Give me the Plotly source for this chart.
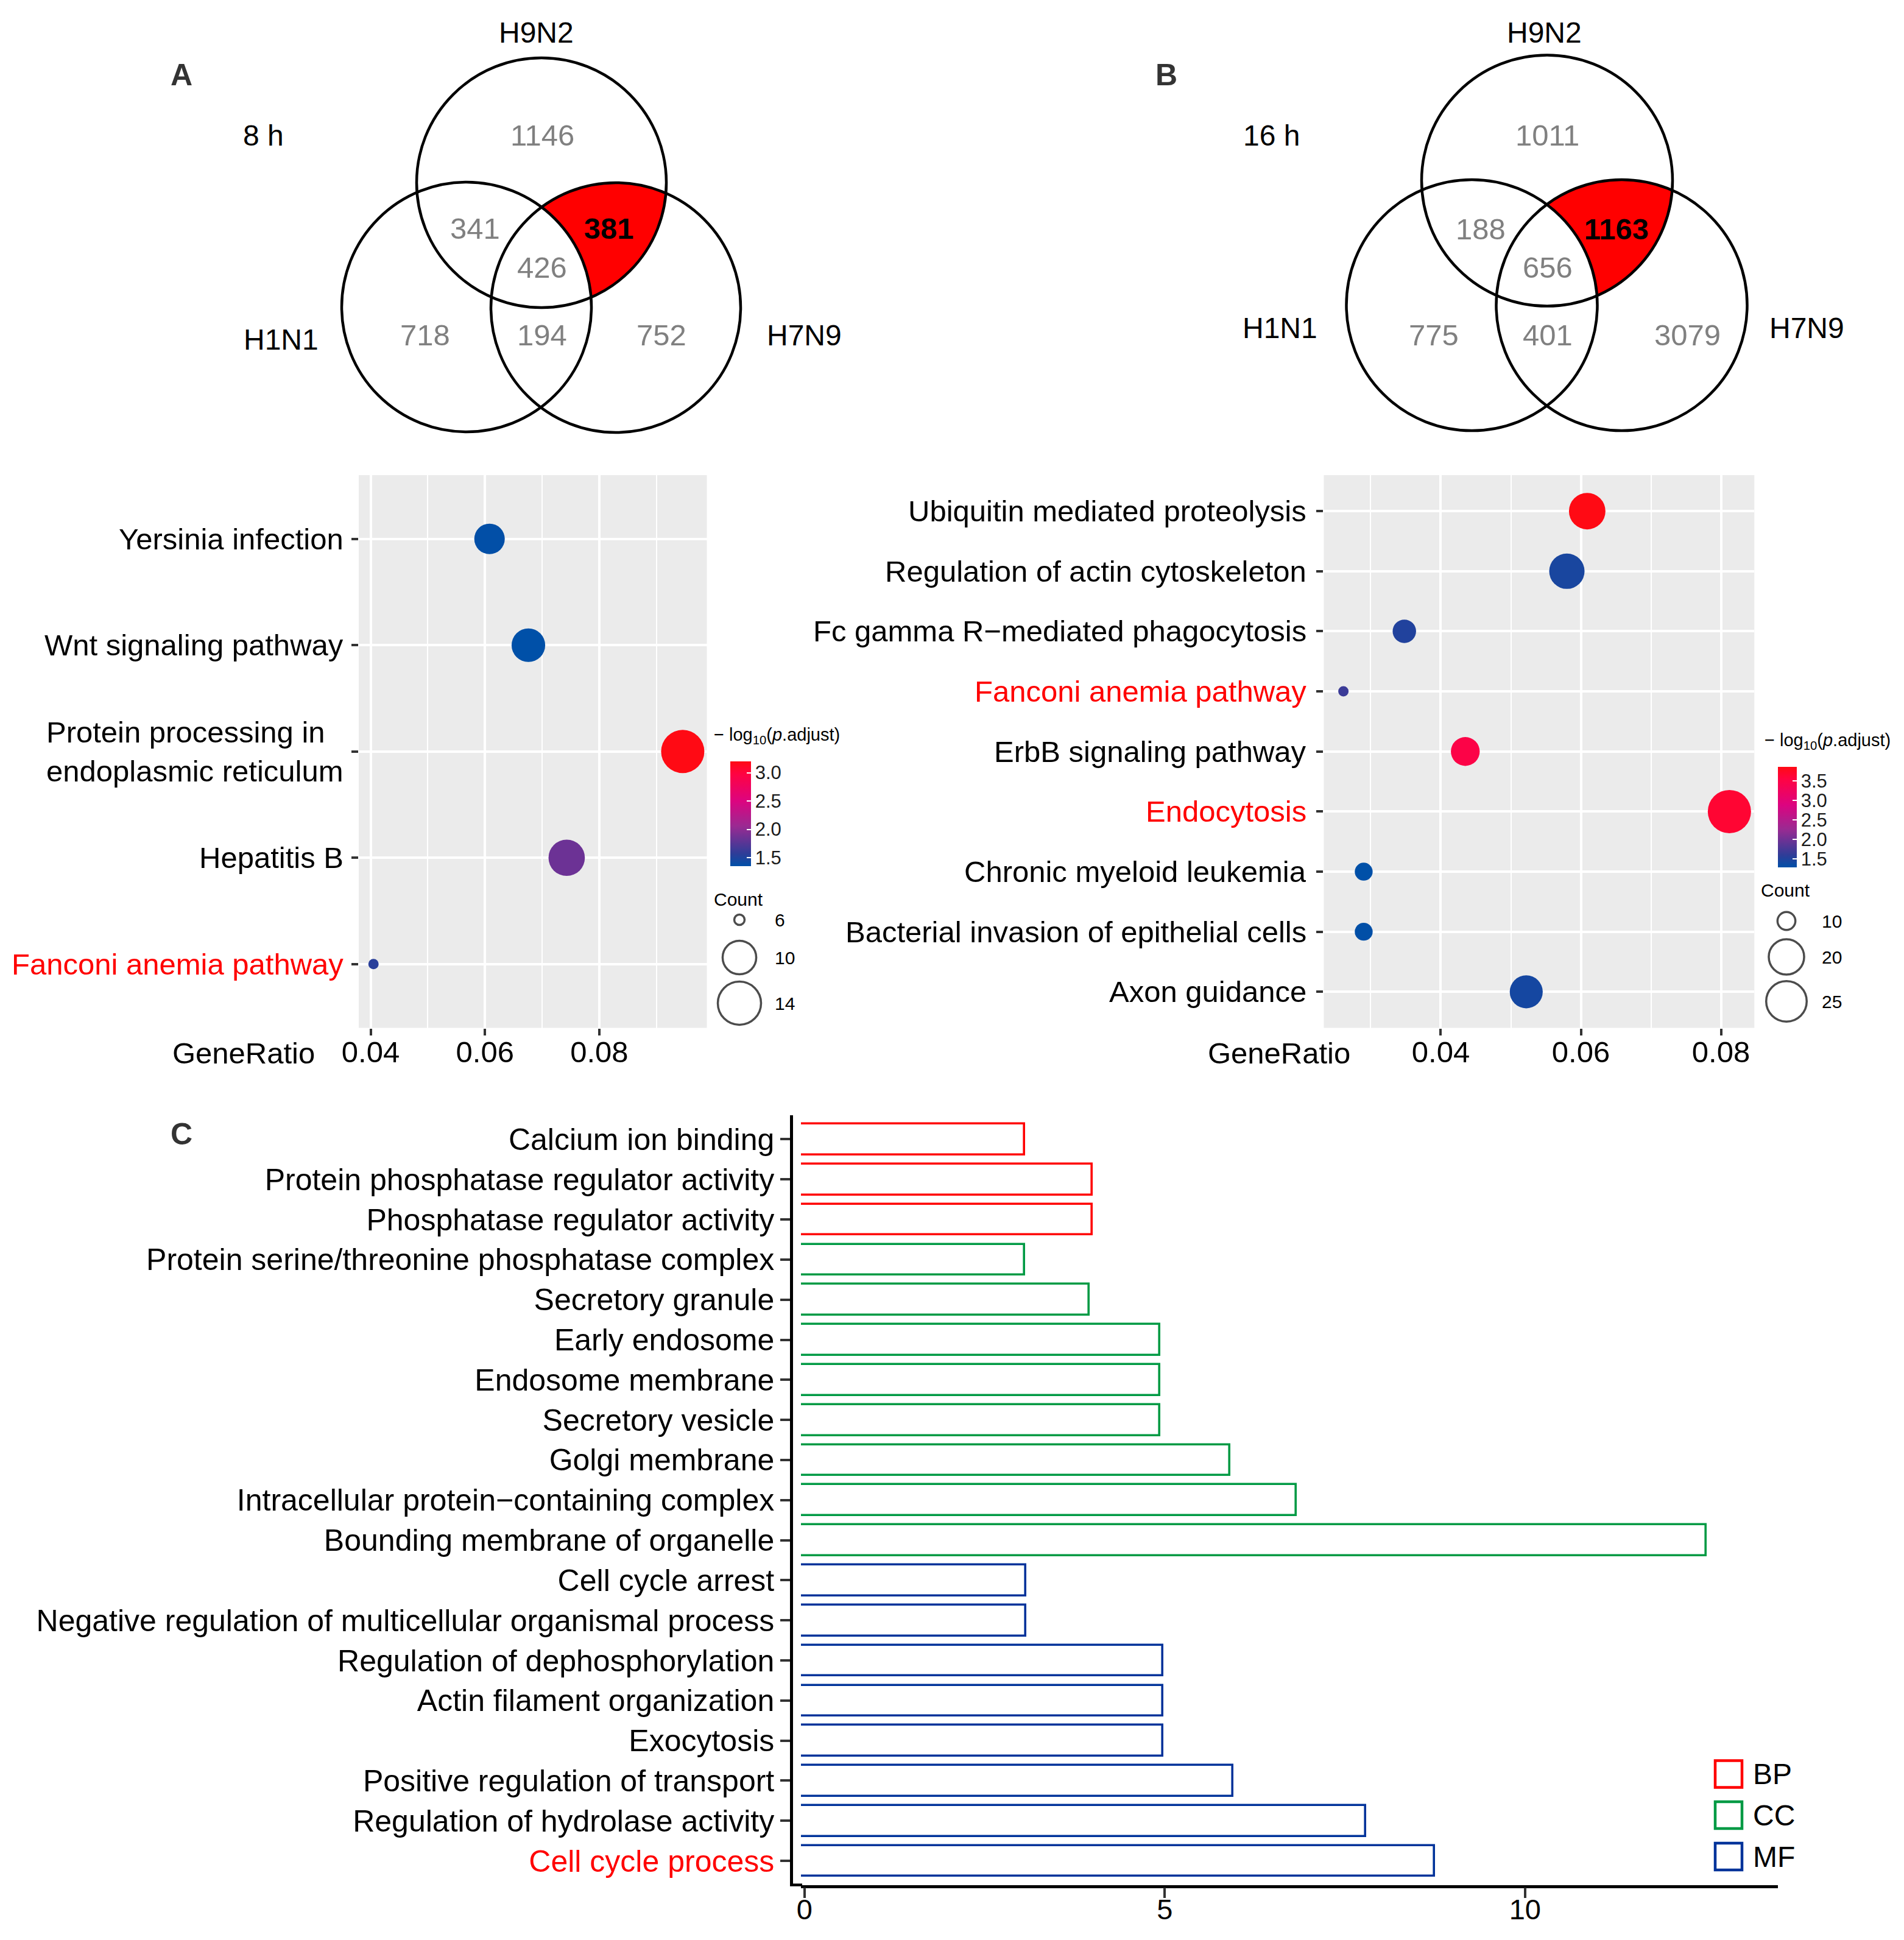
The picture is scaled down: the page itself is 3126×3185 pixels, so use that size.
import math
import plotly.graph_objects as go

W, H = 3126, 3185

# ------------------------------------------------------------------ data
venn_sets = ["H9N2", "H1N1", "H7N9"]
# region order: H9N2 only, H9N2&H1N1, H9N2&H7N9, all three, H1N1 only, H1N1&H7N9, H7N9 only
venn_a_time = "8 h"
venn_a_counts = [1146, 341, 381, 426, 718, 194, 752]
venn_b_time = "16 h"
venn_b_counts = [1011, 188, 1163, 656, 775, 401, 3079]
venn_highlight = 2  # H9N2 & H7N9 only

kegg_a_terms = ["Yersinia infection", "Wnt signaling pathway",
                "Protein processing in<br>endoplasmic reticulum", "Hepatitis B",
                "Fanconi anemia pathway"]
kegg_a_ratio = [0.0608, 0.0676, 0.0946, 0.0743, 0.0405]
kegg_a_count = [9, 10, 14, 11, 6]
kegg_a_logp = [1.36, 1.35, 3.20, 1.85, 1.55]

kegg_b_terms = ["Ubiquitin mediated proteolysis", "Regulation of actin cytoskeleton",
                "Fc gamma R\u2212mediated phagocytosis", "Fanconi anemia pathway",
                "ErbB signaling pathway", "Endocytosis", "Chronic myeloid leukemia",
                "Bacterial invasion of epithelial cells", "Axon guidance"]
kegg_b_ratio = [0.0609, 0.0580, 0.0348, 0.0261, 0.0435, 0.0812, 0.0290, 0.0290, 0.0522]
kegg_b_count = [21, 20, 12, 9, 15, 28, 10, 10, 18]
kegg_b_logp = [3.86, 1.45, 1.50, 1.67, 3.50, 3.65, 1.28, 1.29, 1.42]

highlight_terms = ["Fanconi anemia pathway", "Endocytosis", "Cell cycle process"]

go_terms = ["Calcium ion binding", "Protein phosphatase regulator activity",
            "Phosphatase regulator activity", "Protein serine/threonine phosphatase complex",
            "Secretory granule", "Early endosome", "Endosome membrane", "Secretory vesicle",
            "Golgi membrane", "Intracellular protein\u2212containing complex",
            "Bounding membrane of organelle", "Cell cycle arrest",
            "Negative regulation of multicellular organismal process",
            "Regulation of dephosphorylation", "Actin filament organization", "Exocytosis",
            "Positive regulation of transport", "Regulation of hydrolase activity",
            "Cell cycle process"]
go_values = [3.05, 3.99, 3.99, 3.05, 3.95, 4.93, 4.93, 4.93, 5.90, 6.82, 12.51,
             3.07, 3.07, 4.97, 4.97, 4.97, 5.94, 7.79, 8.74]
go_class = ["BP"] * 3 + ["CC"] * 8 + ["MF"] * 8
go_classes = ["BP", "CC", "MF"]

# ------------------------------------------------------------------ style
FONT = "Liberation Sans, Arial, sans-serif"
class_colors = {"BP": "#FF0000", "CC": "#009A44", "MF": "#00339A"}
cscale = [[0.0, "#0050A8"], [0.12, "#2E3D98"], [0.38, "#9A2A92"],
          [0.62, "#DC0480"], [0.88, "#FF0342"], [1.0, "#FF0A14"]]
DMIN, DMAX = 17, 71


def fx(px):
    return px / W


def fy(py):
    return 1 - py / H


def dot_size(counts, c):
    lo, hi = min(counts), max(counts)
    return DMIN + (DMAX - DMIN) * math.sqrt((c - lo) / (hi - lo))


fig = go.Figure()
annotations = []
shapes = []

# ------------------------------------------------------------------ Venn helpers
def circ_inter(c1, r1, c2, r2):
    dx, dy = c2[0] - c1[0], c2[1] - c1[1]
    d = math.hypot(dx, dy)
    a = (r1 ** 2 - r2 ** 2 + d ** 2) / (2 * d)
    h = math.sqrt(max(r1 ** 2 - a ** 2, 0))
    px, py = c1[0] + a * dx / d, c1[1] + a * dy / d
    return [(px + h * dy / d, py - h * dx / d), (px - h * dy / d, py + h * dx / d)]


def inside(p, c, r):
    return math.hypot(p[0] - c[0], p[1] - c[1]) < r


def arc(c, r, pa, pb, test, n=120):
    a0 = math.atan2(pa[1] - c[1], pa[0] - c[0])
    a1 = math.atan2(pb[1] - c[1], pb[0] - c[0])
    d = (a1 - a0) % (2 * math.pi)
    for delta in (d, d - 2 * math.pi):
        m = a0 + delta / 2
        if test((c[0] + r * math.cos(m), c[1] + r * math.sin(m))):
            return [(c[0] + r * math.cos(a0 + delta * t / n),
                     c[1] + r * math.sin(a0 + delta * t / n)) for t in range(n + 1)]
    return []


def venn(centers, r, counts, count_pos, set_pos, time_label, time_pos, letter, letter_pos):
    c9, c1, c7 = centers
    p1 = [p for p in circ_inter(c9, r, c7, r) if not inside(p, c1, r)][0]
    p2 = [p for p in circ_inter(c9, r, c1, r) if inside(p, c7, r)][0]
    p3 = [p for p in circ_inter(c7, r, c1, r) if inside(p, c9, r)][0]
    pts = arc(c9, r, p1, p2, lambda q: inside(q, c7, r) and not inside(q, c1, r))
    pts += arc(c1, r, p2, p3, lambda q: inside(q, c9, r) and inside(q, c7, r))
    pts += arc(c7, r, p3, p1, lambda q: inside(q, c9, r) and not inside(q, c1, r))
    fig.add_trace(go.Scatter(x=[p[0] for p in pts], y=[p[1] for p in pts], mode="lines",
                             fill="toself", fillcolor="#FF0000", line=dict(width=0),
                             xaxis="x4", yaxis="y4", showlegend=False, hoverinfo="skip"))
    for c in centers:
        shapes.append(dict(type="circle", xref="x4", yref="y4", x0=c[0] - r, x1=c[0] + r,
                           y0=c[1] - r, y1=c[1] + r, line=dict(color="black", width=4.5),
                           layer="above"))
    for i, (v, (x, y)) in enumerate(zip(counts, count_pos)):
        hl = i == venn_highlight
        annotations.append(dict(x=x, y=y, xref="x4", yref="y4", showarrow=False,
                                text=f"<b>{v}</b>" if hl else str(v),
                                font=dict(size=49, color="black" if hl else "#808080", family=FONT)))
    for s, (x, y) in zip(venn_sets, set_pos):
        annotations.append(dict(x=x, y=y, xref="x4", yref="y4", showarrow=False, text=s,
                                font=dict(size=48, color="black", family=FONT)))
    annotations.append(dict(x=time_pos[0], y=time_pos[1], xref="x4", yref="y4", showarrow=False,
                            text=time_label, font=dict(size=48, color="black", family=FONT)))
    annotations.append(dict(x=letter_pos[0], y=letter_pos[1], xref="x4", yref="y4", showarrow=False,
                            text=f"<b>{letter}</b>", font=dict(size=50, color="#333333", family=FONT)))


venn([(889, 300), (766, 504), (1011, 505)], 205, venn_a_counts,
     [(890, 222), (780, 375), (1000, 375), (890, 439), (698, 550), (890, 550), (1086, 550)],
     [(880, 53), (461, 557), (1320, 550)], venn_a_time, (432, 222), "A", (298, 123))
venn([(2540, 296.5), (2416.5, 501), (2662.5, 501)], 206, venn_b_counts,
     [(2540.7, 222), (2431, 376), (2653.6, 375.5), (2540.7, 439), (2354, 550), (2540.7, 550), (2770, 550)],
     [(2535.7, 53), (2101, 538), (2966, 538)], venn_b_time, (2087, 222), "B", (1914.5, 123))


# ------------------------------------------------------------------ dot plots
def dotplot(terms, ratio, count, logp, xa, ya, cb_x, cb_top, cb_bot, cb_thick, cb_ticks,
            label_right, cb_title_pos, legend_breaks, legend_pos, generatio_x):
    idx = list(range(len(terms)))
    fig.add_trace(go.Scatter(
        x=ratio, y=idx, mode="markers", xaxis=xa, yaxis=ya, showlegend=False,
        marker=dict(size=[dot_size(count, c) for c in count], color=logp,
                    colorscale=cscale, cmin=min(logp), cmax=max(logp), line=dict(width=0),
                    opacity=1,
                    colorbar=dict(x=fx(cb_x), xanchor="left", y=fy((cb_top + cb_bot) / 2),
                                  yanchor="middle", len=cb_bot - cb_top, lenmode="pixels",
                                  thickness=cb_thick, thicknessmode="pixels", xpad=0, ypad=0,
                                  outlinewidth=0, tickvals=cb_ticks,
                                  ticktext=[f"{t:.1f}" for t in cb_ticks],
                                  ticks="inside", ticklen=7, tickcolor="white", tickwidth=2,
                                  tickfont=dict(size=31, color="#1a1a1a", family=FONT)))))
    yref = "y" if ya == "y" else "y" + ya[1:]
    for i, t in enumerate(terms):
        red = t in highlight_terms
        annotations.append(dict(x=fx(label_right), y=i, xref="paper", yref=yref, xanchor="right",
                                showarrow=False, text=t, align="left",
                                font=dict(size=49, color="#FF0000" if red else "black", family=FONT)))
    annotations.append(dict(x=cb_title_pos[0], y=cb_title_pos[1], xref="x4", yref="y4",
                            xanchor="left", showarrow=False,
                            text="\u2212 log<sub>10</sub>(<i>p</i>.adjust)",
                            font=dict(size=29, color="black", family=FONT)))
    lx, ly0 = legend_pos
    annotations.append(dict(x=lx, y=ly0, xref="x4", yref="y4", xanchor="left", showarrow=False,
                            text="Count", font=dict(size=30, color="black", family=FONT)))
    br_vals, br_y = legend_breaks
    fig.add_trace(go.Scatter(
        x=[lx + 44] * len(br_vals), y=br_y, mode="markers", xaxis="x4", yaxis="y4",
        showlegend=False, hoverinfo="skip",
        marker=dict(symbol="circle-open", size=[dot_size(count, v) for v in br_vals],
                    color="black", line=dict(width=3.5, color="black"))))
    for v, yy in zip(br_vals, br_y):
        annotations.append(dict(x=lx + 100, y=yy, xref="x4", yref="y4", xanchor="left",
                                showarrow=False, text=str(v),
                                font=dict(size=30, color="black", family=FONT)))
    annotations.append(dict(x=generatio_x, y=1729, xref="x4", yref="y4", showarrow=False,
                            text="GeneRatio", font=dict(size=49, color="black", family=FONT)))


dotplot(kegg_a_terms, kegg_a_ratio, kegg_a_count, kegg_a_logp, "x", "y",
        1199, 1250, 1422, 34, [1.5, 2.0, 2.5, 3.0], 566, (1170, 1208),
        ([6, 10, 14], [1510, 1572, 1647]), (1170, 1476), 400)
dotplot(kegg_b_terms, kegg_b_ratio, kegg_b_count, kegg_b_logp, "x2", "y2",
        2919, 1259, 1424, 31, [1.5, 2.0, 2.5, 3.0, 3.5], 2147, (2895, 1217),
        ([10, 20, 25], [1512, 1571, 1644]), (2889, 1461), 2100)

for xr in ("x domain", "x2 domain"):
    yr = "y domain" if xr == "x domain" else "y2 domain"
    shapes.append(dict(type="rect", xref=xr, yref=yr, x0=0, x1=1, y0=0, y1=1,
                       fillcolor="#EBEBEB", line=dict(width=0), layer="below"))

# ------------------------------------------------------------------ GO bar chart
BASE = -0.4
go_idx = list(range(len(go_terms)))
for cl in go_classes:
    ii = [i for i in go_idx if go_class[i] == cl]
    fig.add_trace(go.Bar(
        y=ii, x=[go_values[i] - BASE for i in ii], base=BASE, orientation="h", width=0.77,
        xaxis="x3", yaxis="y3", showlegend=False, name=cl,
        marker=dict(color="white", line=dict(color=class_colors[cl], width=3.6))))

go_ticktext = [f'<span style="color:#FF0000">{t}</span>' if t in highlight_terms else t
               for t in go_terms]

# short stub joining the y axis line and the x axis line of panel C
C_YAXIS_X, C_PLOT_X0, C_AXIS_Y = 1299, 1315, 3094.6
shapes.append(dict(type="line", xref="x4", yref="y4", x0=C_YAXIS_X - 2, x1=C_PLOT_X0 + 2,
                   y0=C_AXIS_Y, y1=C_AXIS_Y, line=dict(color="black", width=4.5)))

leg_y = [2912.5, 2980, 3048]
fig.add_trace(go.Scatter(
    x=[2838] * 3, y=leg_y, mode="markers", xaxis="x4", yaxis="y4", showlegend=False,
    hoverinfo="skip",
    marker=dict(symbol="square", size=44, color="white",
                line=dict(color=[class_colors[c] for c in go_classes], width=4.5))))
for cl, yy in zip(go_classes, leg_y):
    annotations.append(dict(x=2876, y=yy, xref="x4", yref="y4", xanchor="left", showarrow=False,
                            text=cl, font=dict(size=48, color="black", family=FONT)))
annotations.append(dict(x=298, y=1862, xref="x4", yref="y4", showarrow=False,
                        text="<b>C</b>", font=dict(size=50, color="#333333", family=FONT)))

# ------------------------------------------------------------------ layout
dot_ydom = [fy(1687.5), fy(780)]
tickstyle = dict(ticks="outside", tickcolor="#333333", tickwidth=4, zeroline=False,
                 automargin=False)
fig.update_layout(
    template="none",
    width=W, height=H, autosize=False,
    margin=dict(l=0, r=0, t=0, b=0, pad=0),
    paper_bgcolor="white", plot_bgcolor="rgba(0,0,0,0)",
    font=dict(family=FONT, color="black"),
    xaxis=dict(domain=[fx(589), fx(1160.5)], range=[0.03792, 0.09882], anchor="y",
               tickvals=[0.04, 0.06, 0.08], ticktext=["0.04", "0.06", "0.08"], ticklen=11,
               ticklabelstandoff=-14,
               showgrid=True, gridcolor="white", gridwidth=3.8,
               minor=dict(tickvals=[0.05, 0.07, 0.09], showgrid=True, gridcolor="white", gridwidth=1.9),
               tickfont=dict(size=49, color="black"), **tickstyle),
    yaxis=dict(domain=dot_ydom, range=[4.6, -0.6], anchor="x", tickvals=list(range(5)),
               showticklabels=False, ticklen=11, showgrid=True, gridcolor="white", gridwidth=3.8,
               **tickstyle),
    xaxis2=dict(domain=[fx(2173.4), fx(2880.3)], range=[0.0233, 0.08476], anchor="y2",
                tickvals=[0.04, 0.06, 0.08], ticktext=["0.04", "0.06", "0.08"], ticklen=11,
                ticklabelstandoff=-14,
                showgrid=True, gridcolor="white", gridwidth=3.8,
                minor=dict(tickvals=[0.03, 0.05, 0.07], showgrid=True, gridcolor="white", gridwidth=1.9),
                tickfont=dict(size=49, color="black"), **tickstyle),
    yaxis2=dict(domain=dot_ydom, range=[8.6, -0.6], anchor="x2", tickvals=list(range(9)),
                showticklabels=False, ticklen=11, showgrid=True, gridcolor="white", gridwidth=3.8,
                **tickstyle),
    xaxis3=dict(domain=[fx(C_PLOT_X0), fx(2919)], range=[-0.05, 13.51], anchor="y3",
                tickvals=[0, 5, 10], ticklen=17, showgrid=False, showline=True,
                ticklabelstandoff=-22,
                linecolor="black", linewidth=4.5, tickfont=dict(size=47, color="black"),
                **tickstyle),
    yaxis3=dict(domain=[fy(C_AXIS_Y), fy(1831)], range=[18.6, -0.6], anchor="free",
                position=fx(C_YAXIS_X),
                tickvals=go_idx, ticktext=go_ticktext, ticklen=16, showgrid=False,
                showline=True, linecolor="black", linewidth=4.5,
                tickfont=dict(size=50, color="black"), **tickstyle),
    xaxis4=dict(domain=[0, 1], range=[0, W], anchor="y4", visible=False, fixedrange=True,
                automargin=False),
    yaxis4=dict(domain=[0, 1], range=[H, 0], anchor="x4", visible=False, fixedrange=True,
                automargin=False),
    annotations=annotations, shapes=shapes, bargap=0,
)

fig.write_html("out.html", config={"displayModeBar": False},
               post_script="document.body.style.margin='0';document.body.style.padding='0';")
